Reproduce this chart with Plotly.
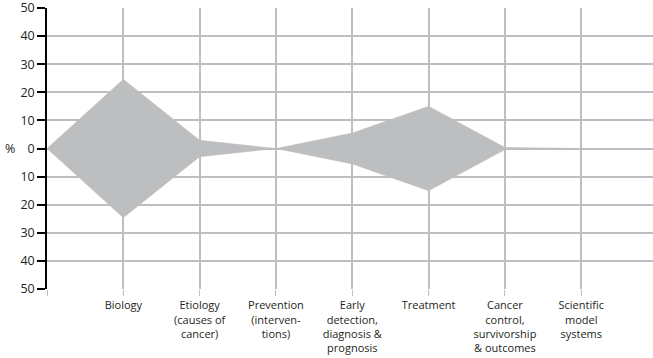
"""Research share by category: symmetric area (violin-like) chart."""

import plotly.graph_objects as go

CATEGORIES = [
    "",
    "Biology",
    "Etiology<br>(causes of<br>cancer)",
    "Prevention<br>(interven-<br>tions)",
    "Early<br>detection,<br>diagnosis &<br>prognosis",
    "Treatment",
    "Cancer<br>control,<br>survivorship<br>& outcomes",
    "Scientific<br>model<br>systems",
]
POSITIONS = [0, 1, 2, 3, 4, 5, 6, 7]
SHARE_PCT = [0, 24.6, 2.9, 0, 5.5, 15.0, 0.4, 0]

Y_TICKS = [50, 40, 30, 20, 10, 0, -10, -20, -30, -40, -50]
Y_LABELS = [str(abs(v)) for v in Y_TICKS]

FONT = "Open Sans"
TEXT = "#231f20"
GRID = "#bcbec0"
FILL = "#bdbec0"

# closed outline: top edge left to right, then mirrored bottom edge back
poly_x = POSITIONS + POSITIONS[::-1]
poly_y = SHARE_PCT + [-v for v in SHARE_PCT[::-1]]

fig = go.Figure()
fig.add_trace(go.Scatter(
    x=poly_x,
    y=poly_y,
    mode="lines",
    fill="toself",
    fillcolor=FILL,
    line=dict(color=FILL, width=0.5),
    hoverinfo="skip",
    showlegend=False,
))

fig.update_xaxes(
    range=[0, 7.94],
    tickvals=POSITIONS,
    ticktext=CATEGORIES,
    showgrid=True,
    gridcolor=GRID,
    gridwidth=1.5,
    zeroline=False,
    showline=False,
    ticks="outside",
    ticklen=6,
    tickcolor=GRID,
    tickwidth=1,
    tickfont=dict(family=FONT, size=11, color=TEXT),
    tickangle=0,
    automargin=False,
    ticklabeloverflow="allow",
)
fig.update_yaxes(
    range=[-50, 50],
    tickvals=Y_TICKS,
    ticktext=Y_LABELS,
    showgrid=True,
    gridcolor=GRID,
    gridwidth=1.5,
    zeroline=False,
    showline=True,
    linecolor="#000000",
    linewidth=1.5,
    ticks="outside",
    ticklen=8,
    tickcolor="#000000",
    tickwidth=1.5,
    tickfont=dict(family=FONT, size=12.5, color=TEXT),
    automargin=False,
    ticklabeloverflow="allow",
)

fig.update_layout(
    width=653,
    height=358,
    margin=dict(l=47, r=0, t=8, b=69),
    paper_bgcolor="white",
    plot_bgcolor="white",
    font=dict(family=FONT, color=TEXT),
    annotations=[dict(
        text="%",
        x=0, xref="paper", xshift=-30, xanchor="right",
        y=0, yref="y", yanchor="middle",
        showarrow=False,
        font=dict(family=FONT, size=12.5, color=TEXT),
    )],
)

# the page's default body margin would shift the chart by 8px
fig.write_html(
    "out.html",
    config={"displayModeBar": False},
    post_script="document.body.style.margin = '0';",
)
